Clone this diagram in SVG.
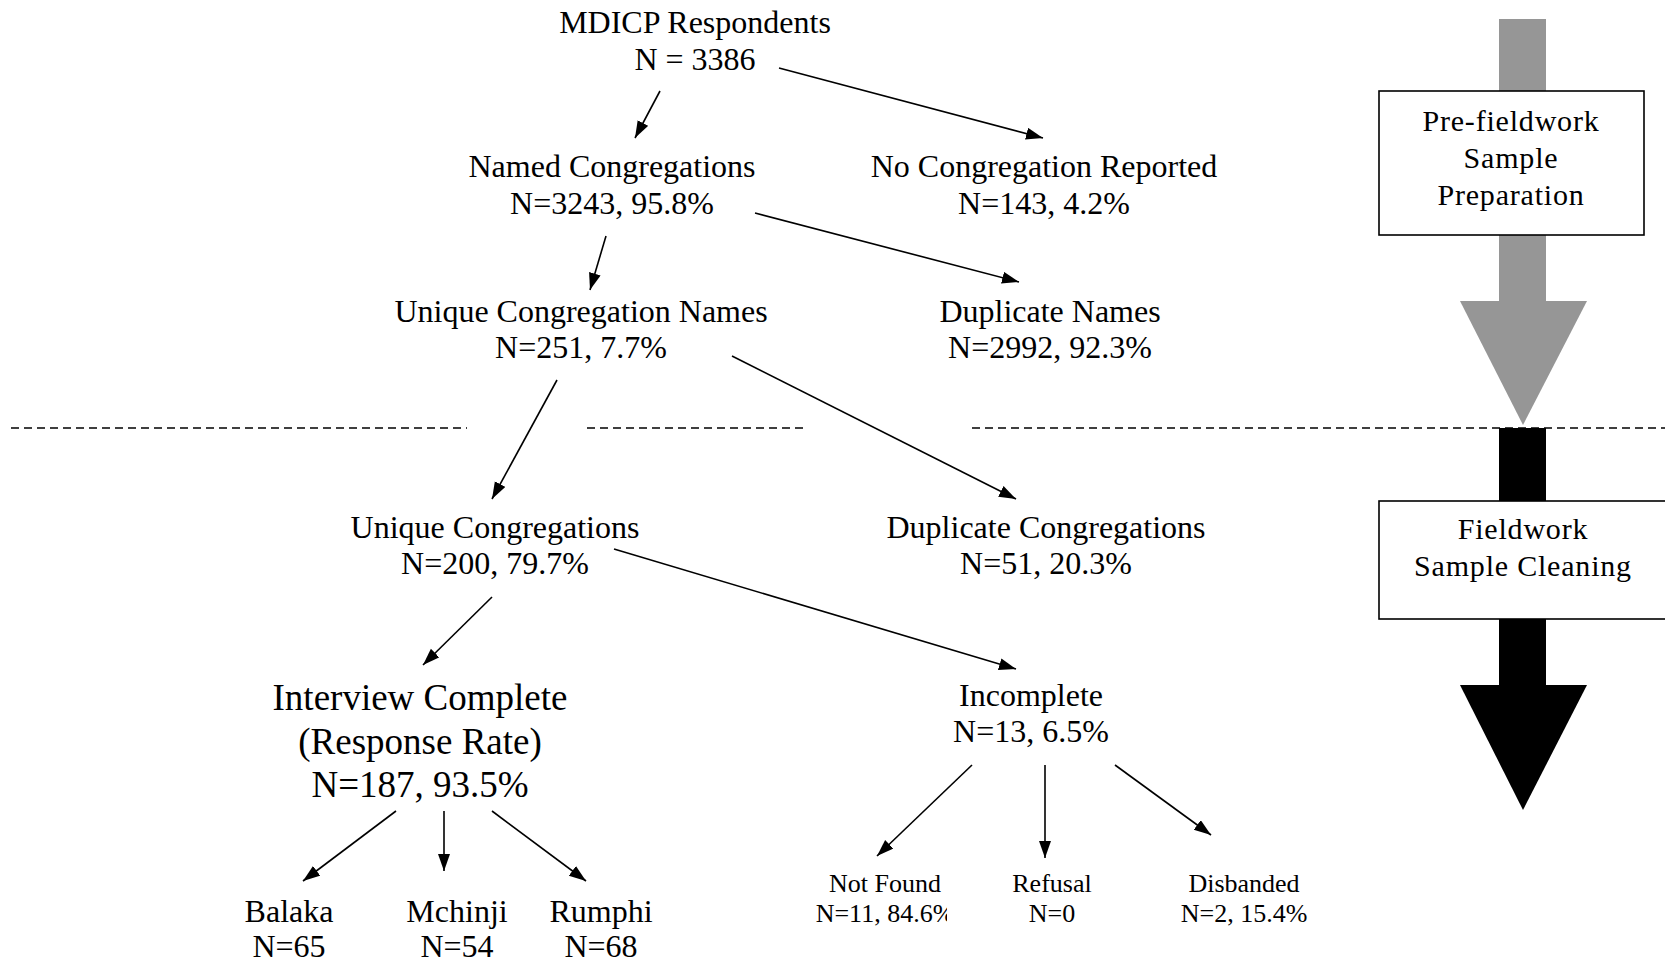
<svg xmlns="http://www.w3.org/2000/svg" width="1665" height="963" viewBox="0 0 1665 963">
<style>
text{font-family:"Liberation Serif","Times New Roman",serif;fill:#000;text-anchor:middle}
.t{font-size:32px}
.big{font-size:37px}
.sm{font-size:26px}
.box{font-size:30px;letter-spacing:0.8px}
.c line{stroke:#000;stroke-width:1.6;marker-end:url(#ah)}
.dash{stroke:#000;stroke-width:1.6;stroke-dasharray:8 5}
</style>
<defs>
<marker id="ah" markerUnits="userSpaceOnUse" markerWidth="18" markerHeight="14" refX="17" refY="6" orient="auto">
<path d="M0,0 L17,6 L0,12 z" fill="#000"/>
</marker>
<clipPath id="clipNF"><rect x="780" y="890" width="167" height="50"/></clipPath>
</defs>
<rect width="1665" height="963" fill="#fff"/>

<g id="divider">
<line class="dash" x1="11" y1="428" x2="467" y2="428"/>
<line class="dash" x1="587" y1="428" x2="805" y2="428"/>
<line class="dash" x1="972" y1="428" x2="1665" y2="428"/>
</g>

<g id="phase-arrows">
<rect x="1499" y="19" width="47" height="282" fill="#969696"/>
<polygon points="1460,301 1587,301 1523,425" fill="#969696"/>
<rect x="1499" y="428" width="47" height="258" fill="#000"/>
<polygon points="1460,685 1587,685 1523,810" fill="#000"/>
</g>

<g id="box-prefieldwork">
<rect x="1379" y="91" width="265" height="144" fill="#fff" stroke="#000" stroke-width="1.6"/>
<text class="box" x="1511" y="131">Pre-fieldwork</text>
<text class="box" x="1511" y="168">Sample</text>
<text class="box" x="1511" y="205">Preparation</text>
</g>

<g id="box-fieldwork">
<rect x="1379" y="501" width="292" height="118" fill="#fff" stroke="#000" stroke-width="1.6"/>
<text class="box" x="1523" y="539">Fieldwork</text>
<text class="box" x="1523" y="576">Sample Cleaning</text>
</g>

<g id="n-respondents">
<text class="t" x="695" y="33">MDICP Respondents</text>
<text class="t" x="695" y="70">N = 3386</text>
</g>
<g id="n-named">
<text class="t" x="612" y="177">Named Congregations</text>
<text class="t" x="612" y="214">N=3243, 95.8%</text>
</g>
<g id="n-noreport">
<text class="t" x="1044" y="177">No Congregation Reported</text>
<text class="t" x="1044" y="214">N=143, 4.2%</text>
</g>
<g id="n-uniquenames">
<text class="t" x="581" y="322">Unique Congregation Names</text>
<text class="t" x="581" y="358">N=251, 7.7%</text>
</g>
<g id="n-dupnames">
<text class="t" x="1050" y="322">Duplicate Names</text>
<text class="t" x="1050" y="358">N=2992, 92.3%</text>
</g>
<g id="n-uniquecong">
<text class="t" x="495" y="538">Unique Congregations</text>
<text class="t" x="495" y="574">N=200, 79.7%</text>
</g>
<g id="n-dupcong">
<text class="t" x="1046" y="538">Duplicate Congregations</text>
<text class="t" x="1046" y="574">N=51, 20.3%</text>
</g>
<g id="n-complete">
<text class="big" x="420" y="710">Interview Complete</text>
<text class="big" x="420" y="754">(Response Rate)</text>
<text class="big" x="420" y="797">N=187, 93.5%</text>
</g>
<g id="n-incomplete">
<text class="t" x="1031" y="706">Incomplete</text>
<text class="t" x="1031" y="742">N=13, 6.5%</text>
</g>
<g id="n-balaka">
<text class="t" x="289" y="922">Balaka</text>
<text class="t" x="289" y="957">N=65</text>
</g>
<g id="n-mchinji">
<text class="t" x="457" y="922">Mchinji</text>
<text class="t" x="457" y="957">N=54</text>
</g>
<g id="n-rumphi">
<text class="t" x="601" y="922">Rumphi</text>
<text class="t" x="601" y="957">N=68</text>
</g>
<g id="n-notfound">
<text class="sm" x="885" y="892">Not Found</text>
<text class="sm" x="885" y="922" clip-path="url(#clipNF)">N=11, 84.6%</text>
</g>
<g id="n-refusal">
<text class="sm" x="1052" y="892">Refusal</text>
<text class="sm" x="1052" y="922">N=0</text>
</g>
<g id="n-disbanded">
<text class="sm" x="1244" y="892">Disbanded</text>
<text class="sm" x="1244" y="922">N=2, 15.4%</text>
</g>

<g id="connectors" class="c">
<line x1="660" y1="91" x2="635" y2="138"/>
<line x1="779" y1="68" x2="1043" y2="138"/>
<line x1="606" y1="236" x2="590" y2="290"/>
<line x1="755" y1="213" x2="1019" y2="282"/>
<line x1="557" y1="380" x2="492" y2="499"/>
<line x1="732" y1="356" x2="1016" y2="499"/>
<line x1="492" y1="597" x2="423" y2="665"/>
<line x1="614" y1="549" x2="1016" y2="669"/>
<line x1="396" y1="811" x2="303" y2="881"/>
<line x1="444" y1="811" x2="444" y2="871"/>
<line x1="492" y1="811" x2="586" y2="881"/>
<line x1="972" y1="765" x2="877" y2="856"/>
<line x1="1045" y1="765" x2="1045" y2="858"/>
<line x1="1115" y1="765" x2="1211" y2="835"/>
</g>
</svg>
